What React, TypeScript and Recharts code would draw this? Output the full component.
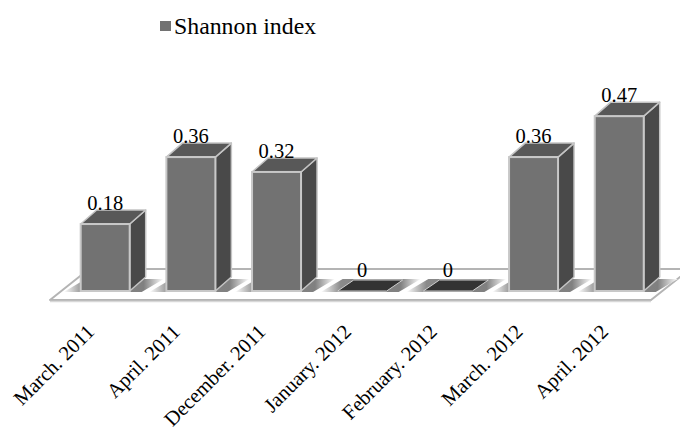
import React from "react";
import { BarChart, Bar, XAxis, YAxis, LabelList, Legend, Customized } from "recharts";

const categories = ["March. 2011", "April. 2011", "December. 2011", "January. 2012", "February. 2012", "March. 2012", "April. 2012"];
const shannon = [0.18, 0.36, 0.32, 0, 0, 0.36, 0.47];
const seriesName = "Shannon index";
const rows = categories.map((month, i) => ({ month, value: shannon[i] }));

const FONT = '"Liberation Serif", "Times New Roman", serif';

function Floor() {
  return (
    <g>
      <polygon points="50,300 651,300 690,269 89,269" fill="#ffffff" stroke="#b4b4b4" strokeWidth={2} strokeLinejoin="round" />
      <line x1={50} y1={301.5} x2={651} y2={301.5} stroke="#d8d8d8" strokeWidth={1.5} />
    </g>
  );
}

function Bar3D(props: any) {
  const { x, y, width, height, index } = props;
  const dx = 16;
  const dy = 14;
  const bottom = y + height;
  const gid = `sh${index}`;
  const shadow = (
    <g>
      <defs>
        <linearGradient id={gid} x1="0" y1="0" x2="1" y2="0">
          <stop offset="0" stopColor="#ffffff" />
          <stop offset="0.2" stopColor="#8a8a8a" />
          <stop offset="0.8" stopColor="#808080" />
          <stop offset="1" stopColor="#ffffff" />
        </linearGradient>
      </defs>
      <polygon
        points={`${x - 17},${bottom + 1} ${x + width + 12},${bottom + 1} ${x + width + 34},${bottom - 12} ${x + 5},${bottom - 12}`}
        fill={`url(#${gid})`}
      />
    </g>
  );
  if (height < 1) {
    return (
      <g>
        {shadow}
        <polygon points={`${x},${bottom} ${x + width},${bottom} ${x + width + dx},${bottom - dy + 3} ${x + dx},${bottom - dy + 3}`} fill="#333333" stroke="#cfcfcf" strokeWidth={1} />
      </g>
    );
  }
  return (
    <g>
      {shadow}
      <polygon points={`${x + width},${y} ${x + width + dx},${y - dy} ${x + width + dx},${bottom - dy} ${x + width},${bottom}`} fill="#494949" stroke="#c4c4c4" strokeWidth={1.5} strokeLinejoin="round" />
      <polygon points={`${x},${y} ${x + width},${y} ${x + width + dx},${y - dy} ${x + dx},${y - dy}`} fill="#585858" stroke="#c4c4c4" strokeWidth={1.5} strokeLinejoin="round" />
      <rect x={x} y={y} width={width} height={height} fill="#727272" stroke="#c8c8c8" strokeWidth={2} />
    </g>
  );
}

function Tick(props: any) {
  const { x, y, payload } = props;
  return (
    <text
      x={x - 10}
      y={y + 34}
      textAnchor="end"
      fontFamily={FONT}
      fontSize={20.5}
      fill="#000000"
      transform={`rotate(-45 ${x - 10} ${y + 34})`}
    >
      {payload.value}
    </text>
  );
}

function LegendBox() {
  return (
    <div style={{ display: "flex", alignItems: "center", fontFamily: FONT, fontSize: 23.8, color: "#000", lineHeight: "26px" }}>
      <span style={{ display: "inline-block", width: 11, height: 10, background: "#727272", marginRight: 3 }} />
      {seriesName}
    </div>
  );
}

export default function App() {
  return (
    <div style={{ position: "absolute", left: 0, top: 0, width: 680, height: 429, background: "#fff", overflow: "hidden" }}>
      <BarChart width={680} height={429} data={rows} margin={{ top: 79, right: 17.6, bottom: 0, left: 62.7 }} barSize={49}>
        <Customized component={Floor} />
        <XAxis dataKey="month" height={138} axisLine={false} tickLine={false} interval={0} tick={<Tick />} />
        <YAxis hide domain={[0, 0.5]} />
        <Legend
          verticalAlign="top"
          content={<LegendBox />}
          wrapperStyle={{ position: "absolute", left: 160, top: 13, width: 200 }}
        />
        <Bar dataKey="value" name={seriesName} shape={<Bar3D />} isAnimationActive={false}>
          <LabelList dataKey="value" position="top" offset={14} fontFamily={FONT} fontSize={20.5} fill="#000000" />
        </Bar>
      </BarChart>
    </div>
  );
}
